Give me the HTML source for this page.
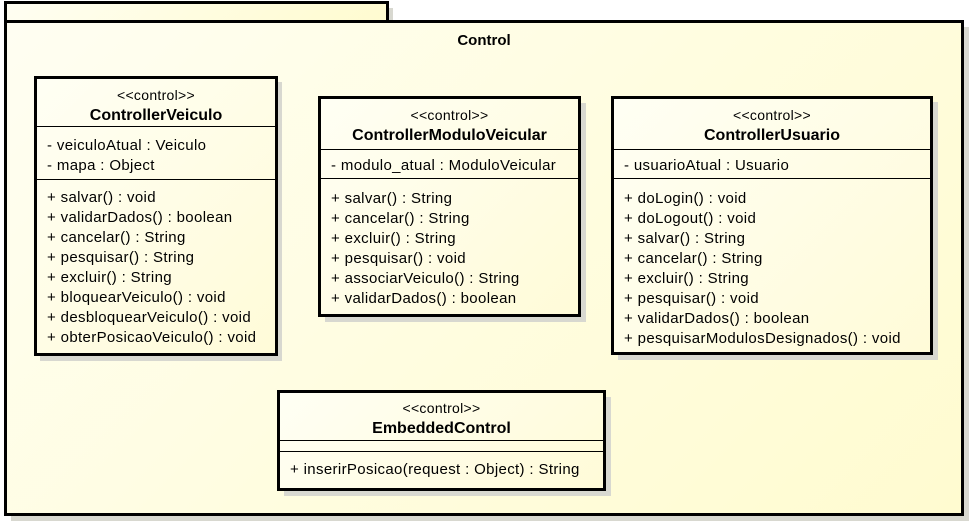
<!DOCTYPE html>
<html><head><meta charset="utf-8"><style>
body{margin:0;width:979px;height:525px;background:#fff;position:relative;overflow:hidden;font-family:"Liberation Sans",Arial,sans-serif;color:#000}
.a{position:absolute;box-sizing:border-box}
.pk{background:linear-gradient(135deg,#fffef2 0%,#fffde0 50%,#fffbd0 100%);border:3px solid #000}
.sh{background:#d8d8d0}
.box{background:linear-gradient(135deg,#fffff4 0%,#fffbd8 100%);border:3px solid #000}
.hd{text-align:center;border-bottom:1px solid #000;box-sizing:border-box;padding-top:8px}
.hd .s{line-height:16px;font-size:14px;letter-spacing:0.3px}
.hd .n{font-weight:bold;font-size:16px;line-height:22px;margin-top:2px}
.sec{border-bottom:1px solid #000;box-sizing:border-box;font-size:15px;letter-spacing:0.35px;line-height:20px;padding:9px 0 0 10px;white-space:nowrap}
.sec:last-child{border-bottom:none}
</style></head><body>
<div class="a sh" style="left:11px;top:8px;width:382px;height:18px"></div>
<div class="a sh" style="left:11px;top:27px;width:958px;height:494px"></div>
<div class="a pk" style="left:4px;top:1px;width:385px;height:22px;border-bottom:none"></div>
<div class="a pk" style="left:4px;top:20px;width:960px;height:496px"></div>
<div class="a" style="left:4px;top:32px;width:960px;text-align:center;font-weight:bold;font-size:15px">Control</div>

<div class="a sh" style="left:40px;top:82px;width:242px;height:279px"></div>
<div class="a box" style="left:34px;top:76px;width:244px;height:280px">
<div class="hd" style="height:48px"><div class="s">&lt;&lt;control&gt;&gt;</div><div class="n">ControllerVeiculo</div></div>
<div class="sec" style="height:53px">- veiculoAtual : Veiculo<br>- mapa : Object</div>
<div class="sec" style="padding-top:8px">+ salvar() : void<br>+ validarDados() : boolean<br>+ cancelar() : String<br>+ pesquisar() : String<br>+ excluir() : String<br>+ bloquearVeiculo() : void<br>+ desbloquearVeiculo() : void<br>+ obterPosicaoVeiculo() : void</div>
</div>

<div class="a sh" style="left:325px;top:103px;width:261px;height:219px"></div>
<div class="a box" style="left:318px;top:96px;width:263px;height:221px">
<div class="hd" style="height:51px"><div class="s">&lt;&lt;control&gt;&gt;</div><div class="n">ControllerModuloVeicular</div></div>
<div class="sec" style="height:29px;padding-top:6px">- modulo_atual : ModuloVeicular</div>
<div class="sec" style="padding-top:10px">+ salvar() : String<br>+ cancelar() : String<br>+ excluir() : String<br>+ pesquisar() : void<br>+ associarVeiculo() : String<br>+ validarDados() : boolean</div>
</div>

<div class="a sh" style="left:618px;top:102px;width:320px;height:258px"></div>
<div class="a box" style="left:611px;top:96px;width:322px;height:259px">
<div class="hd" style="height:51px"><div class="s">&lt;&lt;control&gt;&gt;</div><div class="n">ControllerUsuario</div></div>
<div class="sec" style="height:29px;padding-top:6px">- usuarioAtual : Usuario</div>
<div class="sec" style="padding-top:10px">+ doLogin() : void<br>+ doLogout() : void<br>+ salvar() : String<br>+ cancelar() : String<br>+ excluir() : String<br>+ pesquisar() : void<br>+ validarDados() : boolean<br>+ pesquisarModulosDesignados() : void</div>
</div>

<div class="a sh" style="left:284px;top:397px;width:327px;height:99px"></div>
<div class="a box" style="left:277px;top:390px;width:329px;height:101px">
<div class="hd" style="height:48px;padding-top:7px"><div class="s">&lt;&lt;control&gt;&gt;</div><div class="n">EmbeddedControl</div></div>
<div class="sec" style="height:11px;padding:0"></div>
<div class="sec" style="padding-top:8px">+ inserirPosicao(request : Object) : String</div>
</div>
</body></html>
